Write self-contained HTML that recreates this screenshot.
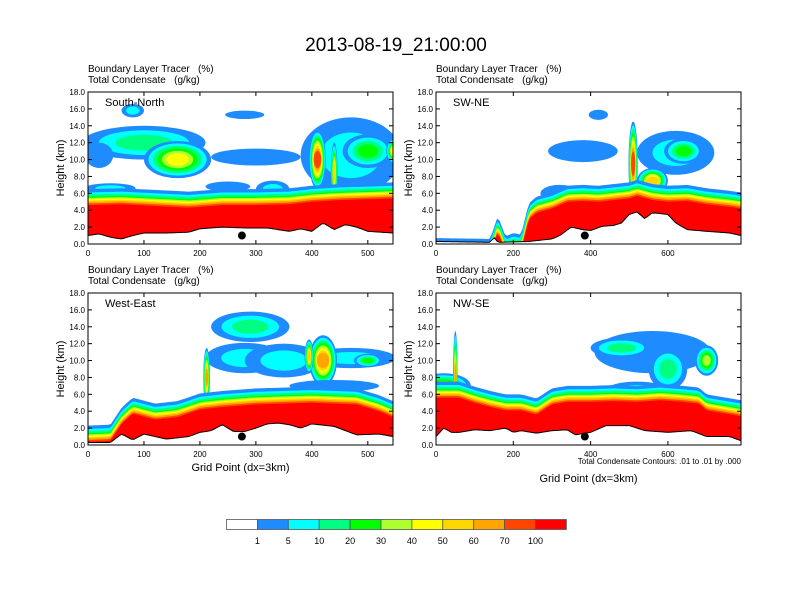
<!DOCTYPE html>
<html><head><meta charset="utf-8"><style>
html,body{margin:0;padding:0;background:#fff;}
svg{display:block;font-family:"Liberation Sans",sans-serif;}
svg text{white-space:pre;}
</style></head><body>
<svg id="chart" width="792" height="612" viewBox="0 0 792 612" xmlns="http://www.w3.org/2000/svg">
<rect width="792" height="612" fill="#fff"/>
<text x="396" y="51" font-size="19" text-anchor="middle">2013-08-19_21:00:00</text>
</svg>
<script>
// ---- data ----
const colorLevels = ["1","5","10","20","30","40","50","60","70","100"];
const palette = ["#ffffff","#1e8cff","#00ffff","#00ff80","#00ff00","#adff2f","#ffff00","#ffd700","#ffa500","#ff4500","#ff0000"];
const yTicks = [0,2,4,6,8,10,12,14,16,18];
const bandOffsets = [1.9,1.5,1.25,1.0,0.85,0.7,0.55,0.4,0.2,0]; // km above BL top per level 1..10

const p1Name="South-North", p1Xmax=545, p1Ticks=[0,100,200,300,400,500];
const p1TerrX=[0,20,40,60,80,100,140,180,200,240,280,320,360,380,400,420,440,460,480,500,545];
const p1TerrY=[1.0,1.2,0.8,0.6,1.0,1.3,1.3,1.4,1.8,2.0,1.9,1.9,1.5,1.8,1.5,2.5,1.7,2.3,2.0,1.5,1.3];
const p1BlX=[0,60,120,180,240,300,360,400,450,500,545];
const p1BlY=[4.6,4.7,4.5,4.3,4.6,4.6,4.7,5.0,5.2,5.3,5.4];
const p1CloudX=[40,100,160,80,280,300,250,330,20,470,500,410,440,545];
const p1CloudY=[6.6,12.0,10.0,15.8,15.3,10.3,6.8,6.5,10.5,10.5,11.0,10.0,8.5,11.0];
const p1CloudRx=[45,110,60,20,35,80,40,30,25,90,45,15,6,12];
const p1CloudRy=[0.6,2.0,2.2,0.8,0.5,1.0,0.6,1.0,1.5,4.5,2.0,3.5,3.5,1.5];
const p1CloudLvl=[2,3,6,2,1,1,1,2,1,2,4,9,7,6];
const p1Dot=275;

const p2Name="SW-NE", p2Xmax=789, p2Ticks=[0,200,400,600];
const p2TerrX=[0,140,150,160,240,280,300,320,350,380,400,430,460,480,500,520,540,560,600,620,650,700,760,789];
const p2TerrY=[0.3,0.2,0.8,0.2,0.3,0.5,0.6,1.0,2.0,1.7,1.6,2.1,2.2,2.5,3.5,3.8,3.0,3.7,3.5,2.5,1.7,1.5,1.3,1.0];
const p2BlX=[0,140,160,180,200,220,240,260,300,340,380,420,460,500,520,560,600,650,700,760,789];
const p2BlY=[-1.2,-1.3,1.4,-1.0,-0.6,-0.8,2.9,3.7,4.2,5.0,5.1,5.0,5.2,5.4,5.7,5.2,5.0,5.1,4.7,4.4,4.2];
const p2CloudX=[380,620,640,510,320,420,560];
const p2CloudY=[11.0,10.8,11.0,9.5,6.0,15.3,7.5];
const p2CloudRx=[90,100,50,12,50,25,40];
const p2CloudRy=[1.3,2.6,1.5,5.0,1.0,0.6,1.5];
const p2CloudLvl=[1,2,4,9,1,1,7];
const p2Dot=385;

const p3Name="West-East", p3Xmax=545, p3Ticks=[0,100,200,300,400,500];
const p3TerrX=[0,40,60,80,100,140,180,200,220,240,260,280,300,320,340,360,380,400,440,480,520,545];
const p3TerrY=[0.3,0.3,1.3,0.6,1.3,0.7,1.0,1.5,1.7,2.4,1.6,1.6,2.0,2.5,2.6,2.4,2.0,2.5,2.2,1.2,1.3,1.0];
const p3BlX=[0,40,60,80,120,160,200,240,300,400,480,520,545];
const p3BlY=[0.4,0.5,2.5,3.7,3.0,3.3,4.2,4.5,4.8,5.0,4.8,4.0,3.3];
const p3CloudX=[290,280,350,470,500,420,395,212,440];
const p3CloudY=[14.0,10.3,10.0,10.3,10.0,10.0,10.5,8.0,7.0];
const p3CloudRx=[70,70,70,80,25,25,8,6,80];
const p3CloudRy=[1.8,1.8,2.0,1.2,0.8,3.0,2.0,3.5,0.7];
const p3CloudLvl=[3,2,2,2,4,8,7,8,1];
const p3Dot=275;

const p4Name="NW-SE", p4Xmax=789, p4Ticks=[0,200,400,600];
const p4TerrX=[0,20,40,60,100,140,180,200,220,260,300,340,360,400,440,500,540,600,660,700,760,789];
const p4TerrY=[1.0,2.0,1.5,1.5,1.8,1.7,2.0,1.5,1.7,1.4,1.7,1.8,1.2,1.5,2.3,2.3,1.7,1.5,1.7,1.0,1.0,0.5];
const p4BlX=[0,60,100,140,180,220,260,300,340,400,460,520,580,640,680,700,789];
const p4BlY=[5.6,5.6,5.0,4.5,4.1,4.1,3.6,4.8,5.1,5.1,5.2,5.1,5.3,5.1,4.9,4.1,3.4];
const p4CloudX=[20,50,560,480,600,700,520];
const p4CloudY=[7.0,8.0,11.0,11.5,9.0,10.0,6.5];
const p4CloudRx=[70,6,150,80,50,30,80];
const p4CloudRy=[1.5,5.5,2.5,1.2,2.5,1.8,1.0];
const p4CloudLvl=[5,8,1,3,3,5,2];
const p4Dot=385;

const panels=[
 {name:p1Name,xmax:p1Xmax,ticks:p1Ticks,tx:p1TerrX,ty:p1TerrY,bx:p1BlX,by:p1BlY,cx:p1CloudX,cy:p1CloudY,rx:p1CloudRx,ry:p1CloudRy,cl:p1CloudLvl,dot:p1Dot,x0:88,y0:92,bottom:false,label:false},
 {name:p2Name,xmax:p2Xmax,ticks:p2Ticks,tx:p2TerrX,ty:p2TerrY,bx:p2BlX,by:p2BlY,cx:p2CloudX,cy:p2CloudY,rx:p2CloudRx,ry:p2CloudRy,cl:p2CloudLvl,dot:p2Dot,x0:436,y0:92,bottom:false,label:false},
 {name:p3Name,xmax:p3Xmax,ticks:p3Ticks,tx:p3TerrX,ty:p3TerrY,bx:p3BlX,by:p3BlY,cx:p3CloudX,cy:p3CloudY,rx:p3CloudRx,ry:p3CloudRy,cl:p3CloudLvl,dot:p3Dot,x0:88,y0:293,bottom:true,label:false},
 {name:p4Name,xmax:p4Xmax,ticks:p4Ticks,tx:p4TerrX,ty:p4TerrY,bx:p4BlX,by:p4BlY,cx:p4CloudX,cy:p4CloudY,rx:p4CloudRx,ry:p4CloudRy,cl:p4CloudLvl,dot:p4Dot,x0:436,y0:293,bottom:true,label:true}
];

const NS="http://www.w3.org/2000/svg";
const svg=document.getElementById('chart');
function mk(tag,attrs,parent){const e=document.createElementNS(NS,tag);for(const k in attrs)e.setAttribute(k,attrs[k]);(parent||svg).appendChild(e);return e;}
function interp(xs,ys,x){if(x<=xs[0])return ys[0];for(let i=1;i<xs.length;i++){if(x<=xs[i]){const t=(x-xs[i-1])/(xs[i]-xs[i-1]);return ys[i-1]+t*(ys[i]-ys[i-1]);}}return ys[ys.length-1];}

const W=305,H=152;
panels.forEach((p,pi)=>{
  const sx=v=>p.x0+v/p.xmax*W, sy=v=>p.y0+H-v/18*H;
  const g=mk('g',{});
  
  
  const cp=mk('clipPath',{id:'clip'+pi},g); mk('rect',{x:p.x0,y:p.y0,width:W,height:H},cp);
  const plot=mk('g',{'clip-path':'url(#clip'+pi+')'},g);
  p.cx.forEach((c,i)=>{
    for(let j=1;j<=p.cl[i];j++){
      const f=1-(j-1)/p.cl[i]*0.8;
      const fx=p.cl[i]>=7?Math.max(f,0.45):f;
      const e=mk('ellipse',{cx:sx(c),cy:sy(p.cy[i]),rx:p.rx[i]/p.xmax*W*fx,ry:p.ry[i]/18*H*f,fill:palette[j]},plot);
      
      
    }
  });
  const N=120;
  for(let k=0;k<10;k++){
    let pts=[];
    for(let i=0;i<=N;i++){const x=p.xmax*i/N;pts.push(sx(x)+','+sy(interp(p.bx,p.by,x)+bandOffsets[k]));}
    for(let i=N;i>=0;i--){const x=p.xmax*i/N;pts.push(sx(x)+','+sy(interp(p.tx,p.ty,x)));}
    const poly=mk('polygon',{points:pts.join(' '),fill:palette[k+1]},plot);
    
    
  }
  let tp=[];
  for(let i=0;i<=N;i++){const x=p.xmax*i/N;tp.push(sx(x)+','+sy(interp(p.tx,p.ty,x)));}
  const terr=mk('polygon',{points:tp.join(' ')+' '+sx(p.xmax)+','+sy(0)+' '+sx(0)+','+sy(0),fill:'#fff',stroke:'#000','stroke-width':1},plot);
  
  
  const dot=mk('circle',{cx:sx(p.dot),cy:sy(1.0),r:4,fill:'#000'},g);
  
  
  const fr=mk('rect',{x:p.x0,y:p.y0,width:W,height:H,fill:'none',stroke:'#000','stroke-width':1},g);
  
  
  yTicks.forEach(v=>{
    mk('line',{x1:p.x0,x2:p.x0+4,y1:sy(v),y2:sy(v),stroke:'#000'},g);
    mk('line',{x1:p.x0+W,x2:p.x0+W-4,y1:sy(v),y2:sy(v),stroke:'#000'},g);
    const t=mk('text',{x:p.x0-3,y:sy(v)+3,'font-size':8,'text-anchor':'end'},g);t.textContent=v.toFixed(1);
    
    
  });
  p.ticks.forEach(v=>{
    mk('line',{x1:sx(v),x2:sx(v),y1:p.y0+H,y2:p.y0+H-4,stroke:'#000'},g);
    mk('line',{x1:sx(v),x2:sx(v),y1:p.y0,y2:p.y0+4,stroke:'#000'},g);
    const t=mk('text',{x:sx(v),y:p.y0+H+12,'font-size':8,'text-anchor':'middle'},g);t.textContent=v;
    
    
  });
  const yl=mk('text',{x:0,y:0,'font-size':11,'text-anchor':'middle',transform:'translate('+(p.x0-24)+','+(p.y0+H/2)+') rotate(-90)'},g);
  yl.textContent='Height (km)';
  
  
  const t1=mk('text',{x:p.x0,y:p.y0-20,'font-size':10},g);t1.textContent='Boundary Layer Tracer   (%)';
  
  
  const t2=mk('text',{x:p.x0,y:p.y0-9,'font-size':10},g);t2.textContent='Total Condensate   (g/kg)';
  
  
  const nm=mk('text',{x:p.x0+17,y:p.y0+14,'font-size':11},g);nm.textContent=p.name;
  
  
  if(p.bottom){
    const xl=mk('text',{x:p.x0+W/2,y:p.label?482:471,'font-size':11,'text-anchor':'middle'},g);xl.textContent='Grid Point (dx=3km)';
    
    
  }
  if(p.label){
    const cl=mk('text',{x:p.x0+W,y:p.y0+H+19,'font-size':8,'text-anchor':'end'},g);cl.textContent='Total Condensate Contours: .01 to .01 by .000';
    
    
  }
});
const cb=mk('g',{});


const bw=30.9;
palette.forEach((c,i)=>{
  const r=mk('rect',{x:226.5+i*bw,y:519.5,width:bw,height:10,fill:c,stroke:'#555','stroke-width':0.8},cb);
  
  
});
colorLevels.forEach((l,i)=>{
  const t=mk('text',{x:226.5+(i+1)*bw,y:544,'font-size':9,'text-anchor':'middle'},cb);t.textContent=l;
  
  
});
</script>
</body></html>
